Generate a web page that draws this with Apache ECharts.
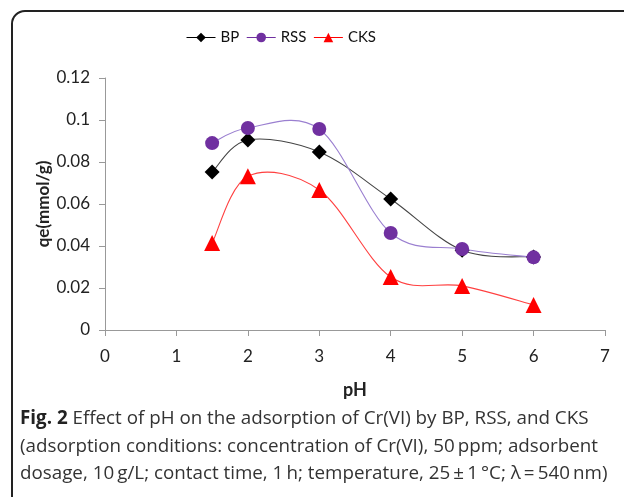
<!DOCTYPE html>
<html><head><meta charset="utf-8">
<script src="https://cdn.jsdelivr.net/npm/echarts@6/dist/echarts.min.js"></script>
<style>html,body{margin:0;padding:0;background:#fff}#c{width:624px;height:497px}</style>
</head><body><div id="c"></div>
<script>
const pH = [1.5, 2, 3, 4, 5, 6];
const BP = [0.0752, 0.0905, 0.0848, 0.0624, 0.0380, 0.0348];
const RSS = [0.0890, 0.0962, 0.0957, 0.0462, 0.0386, 0.0346];
const CKS = [0.0414, 0.0732, 0.0667, 0.0252, 0.0210, 0.0119];
const seriesNames = ['BP', 'RSS', 'CKS'];
const xTicks = [0, 1, 2, 3, 4, 5, 6, 7];
const yTicks = [0, 0.02, 0.04, 0.06, 0.08, 0.1, 0.12];

const NARROW = "'Liberation Sans Narrow', 'Arial Narrow', Lato, sans-serif";
const pair = ys => pH.map((x, i) => [x, ys[i]]);

// Excel-like smoothed curve (Catmull-Rom, 1/6 tangent) through the library's coordinate mapping
function smoothCurve(ys, color) {
  return {
    type: 'custom', data: pair(ys), z: 2, silent: true,
    encode: {x: 0, y: 1},
    renderItem: function (params, api) {
      const i = params.dataIndex;
      if (i >= pH.length - 1) return null;
      const P = j => api.coord([pH[Math.max(0, Math.min(pH.length - 1, j))], ys[Math.max(0, Math.min(pH.length - 1, j))]]);
      const p0 = P(i - 1), p1 = P(i), p2 = P(i + 1), p3 = P(i + 2);
      return {
        type: 'bezierCurve',
        shape: {
          x1: p1[0], y1: p1[1], x2: p2[0], y2: p2[1],
          cpx1: p1[0] + (p2[0] - p0[0]) / 6, cpy1: p1[1] + (p2[1] - p0[1]) / 6,
          cpx2: p2[0] - (p3[0] - p1[0]) / 6, cpy2: p2[1] - (p3[1] - p1[1]) / 6
        },
        style: {stroke: color, lineWidth: 1.1, fill: null}
      };
    }
  };
}

const chart = echarts.init(document.getElementById('c'));
const tickFont = {fontFamily: NARROW, fontSize: 17, color: '#222'};
chart.setOption({
  animation: false,
  legend: {
    top: 25, left: 181, itemWidth: 29, itemHeight: 12, itemGap: 7,
    textStyle: {fontFamily: NARROW, fontSize: 15, color: '#111'},
    data: [
      {name: 'BP', lineStyle: {color: '#000', width: 1, opacity: 1}},
      {name: 'RSS', lineStyle: {color: '#7030a0', width: 1, opacity: 1}},
      {name: 'CKS', lineStyle: {color: '#ff0000', width: 1, opacity: 1}}
    ]
  },
  grid: {left: 105, right: 19, top: 78, bottom: 167},
  xAxis: {
    type: 'value', min: 0, max: 7, interval: 1,
    name: 'pH', nameLocation: 'middle', nameGap: 51, nameMoveOverlap: false,
    nameTextStyle: {fontFamily: NARROW, fontWeight: 'bold', fontSize: 18, color: '#222'},
    axisLine: {lineStyle: {color: '#999'}},
    axisTick: {length: 6, lineStyle: {color: '#999'}},
    axisLabel: Object.assign({margin: 18}, tickFont, {formatter: v => String(v)}),
    splitLine: {show: false}
  },
  yAxis: {
    type: 'value', min: 0, max: 0.12, interval: 0.02,
    name: 'qe(mmol/g)', nameLocation: 'middle', nameGap: 53, nameMoveOverlap: false,
    nameTextStyle: {fontFamily: NARROW, fontWeight: 'bold', fontSize: 17, color: '#222'},
    axisLine: {show: true, lineStyle: {color: '#999'}},
    axisTick: {show: true, length: 6, lineStyle: {color: '#999'}},
    axisLabel: Object.assign({margin: 15}, tickFont, {formatter: v => String(+v.toFixed(2))}),
    splitLine: {show: false}
  },
  series: [
    smoothCurve(BP, '#444'),
    smoothCurve(RSS, '#9a7fd0'),
    smoothCurve(CKS, '#ff4040'),
    {name: 'BP', type: 'line', data: pair(BP), symbol: 'diamond', symbolSize: 15, z: 3,
     lineStyle: {color: '#000', width: 1, opacity: 0}, itemStyle: {color: '#000'}},
    {name: 'RSS', type: 'line', data: pair(RSS), symbol: 'circle', symbolSize: 14, z: 3,
     lineStyle: {color: '#7030a0', width: 1, opacity: 0}, itemStyle: {color: '#7030a0'}},
    {name: 'CKS', type: 'line', data: pair(CKS), symbol: 'triangle', symbolSize: 16, z: 3,
     lineStyle: {color: '#ff0000', width: 1, opacity: 0}, itemStyle: {color: '#ff0000'}}
  ],
  graphic: [
    {type: 'rect', shape: {x: 12, y: 11, width: 700, height: 600, r: [13, 0, 0, 0]},
     style: {stroke: '#222', lineWidth: 2, fill: 'transparent'}, silent: true, z: -1},
    {type: 'text', left: 20, top: 405, style: {
      text: '{b|Fig. 2} Effect of pH on the adsorption of Cr(VI) by BP, RSS, and CKS\n(adsorption conditions: concentration of Cr(VI), 50\u2009ppm; adsorbent\ndosage, 10\u2009g/L; contact time, 1\u2009h; temperature, 25\u2009\u00b1\u20091\u2009\u00b0C; \u03bb\u2009=\u2009540\u2009nm)',
      fontFamily: 'Open Sans', fontSize: 18.8, lineHeight: 27.5, fill: '#333',
      rich: {b: {fontFamily: 'Open Sans', fontWeight: 'bold', fontSize: 18.8, fill: '#222'}}
    }}
  ]
});
</script></body></html>
